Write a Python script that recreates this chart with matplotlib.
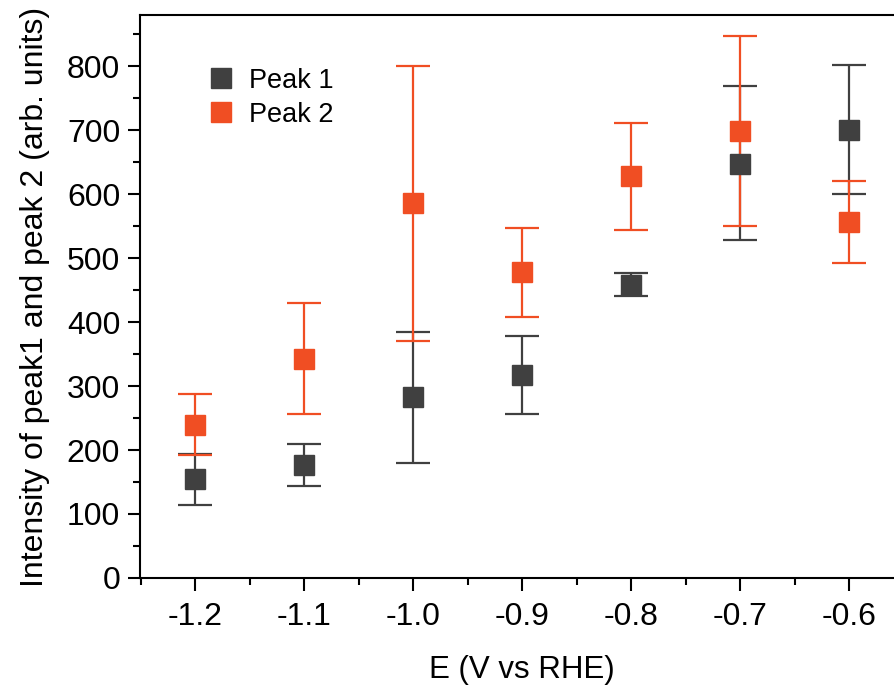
import matplotlib
matplotlib.use('Agg')
import matplotlib.pyplot as plt
from matplotlib.ticker import MultipleLocator
import numpy as np

plt.rcParams['font.family'] = ['Liberation Sans', 'DejaVu Sans']

potential = [-1.2, -1.1, -1.0, -0.9, -0.8, -0.7, -0.6]

peak1 = [155, 177, 283, 317, 458, 648, 700]
peak1_low = [114, 143, 180, 256, 441, 529, 600]
peak1_high = [194, 209, 384, 378, 477, 769, 802]

peak2 = [239, 342, 586, 478, 628, 699, 556]
peak2_low = [192, 256, 370, 408, 544, 550, 492]
peak2_high = [288, 430, 800, 547, 711, 847, 620]

DARK = '#404040'
ORANGE = '#f04e23'


def yerr(vals, low, high):
    vals = np.array(vals)
    return [vals - np.array(low), np.array(high) - vals]


fig = plt.figure(figsize=(8.95, 6.88), dpi=100)
ax = fig.add_axes([0.156, 0.160, 0.854, 0.818])

ax.errorbar(potential, peak1, yerr=yerr(peak1, peak1_low, peak1_high),
            fmt='s', color=DARK, ms=14, elinewidth=1.6, capsize=12,
            capthick=1.6, label='Peak 1')
ax.errorbar(potential, peak2, yerr=yerr(peak2, peak2_low, peak2_high),
            fmt='s', color=ORANGE, ms=14, elinewidth=1.6, capsize=12,
            capthick=1.6, label='Peak 2')

ax.set_xlim(-1.251, -0.55)
ax.set_ylim(0, 880)
ax.set_xticks(potential)
ax.set_xticklabels(['{:.1f}'.format(v) for v in potential])
ax.xaxis.set_minor_locator(MultipleLocator(0.05))
ax.yaxis.set_major_locator(MultipleLocator(100))
ax.yaxis.set_minor_locator(MultipleLocator(50))

for s in ax.spines.values():
    s.set_linewidth(1.5)
ax.tick_params(which='major', direction='out', length=9, width=1.5,
               labelsize=23, pad=5)
ax.tick_params(which='minor', direction='out', length=5, width=1.5)
ax.tick_params(axis='x', pad=8)

ax.set_xlabel('E (V vs RHE)', fontsize=22.5, labelpad=17)
ax.set_ylabel('Intensity of peak1 and peak 2 (arb. units)', fontsize=23,
              labelpad=12)

handles, labels = ax.get_legend_handles_labels()
handles = [h[0] for h in handles]
ax.legend(handles, labels, loc='upper left', bbox_to_anchor=(0.055, 0.95),
          frameon=False, fontsize=19.5, handletextpad=0.5, labelspacing=0.3,
          handlelength=1.1)

fig.savefig('out.png', dpi=100)
